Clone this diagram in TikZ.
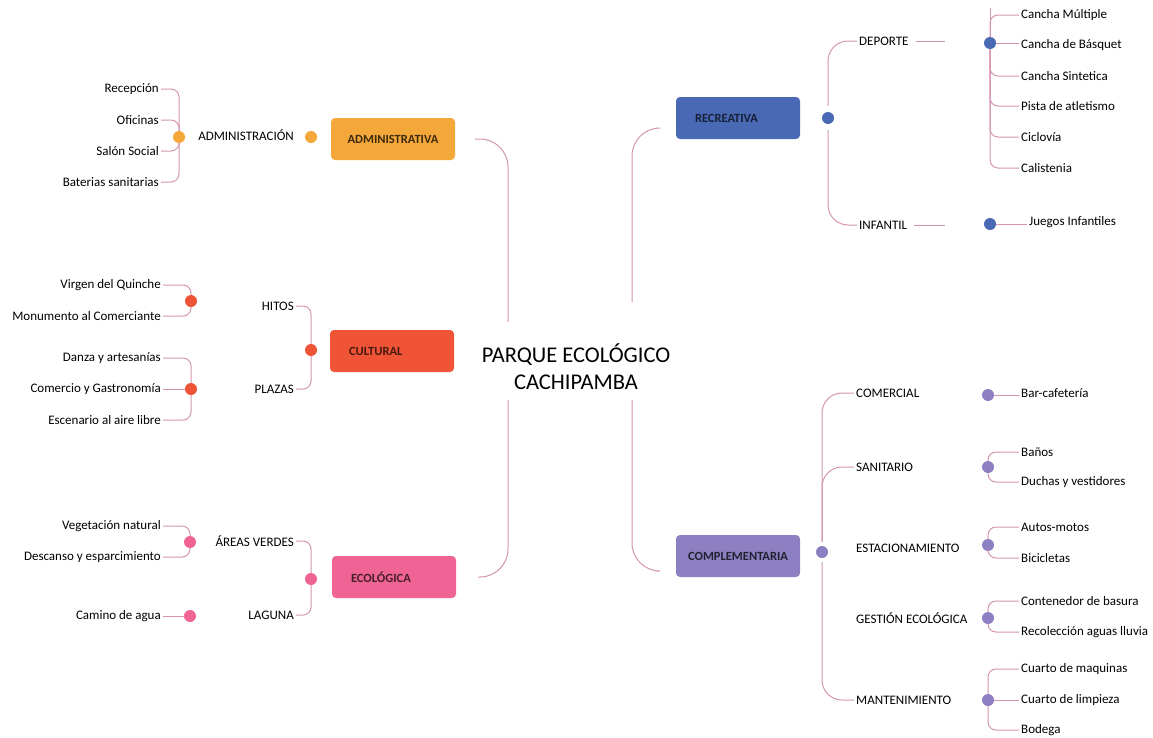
\documentclass[tikz,border=0pt]{standalone}
\usepackage{fontspec}
\setmainfont{Carlito}
\usepackage{tikz}
\usetikzlibrary{positioning,calc}
\definecolor{admC}{HTML}{F4A83A}
\definecolor{culC}{HTML}{EF5436}
\definecolor{ecoC}{HTML}{EF6494}
\definecolor{recC}{HTML}{4A69B5}
\definecolor{comC}{HTML}{8C80C2}
\definecolor{linkC}{HTML}{D494B2}
\tikzset{
  mainbox/.style={rounded corners=4pt,minimum height=42pt,text width=86pt,inner xsep=19pt,
    align=left,font=\fontsize{12.5}{14}\selectfont\bfseries},
  widebox/.style={text width=104pt,inner xsep=10pt,align=center},
  dot/.style={circle,inner sep=0pt,minimum size=12pt},
  leafL/.style={anchor=east,inner sep=2pt,font=\fontsize{13}{15}\selectfont},
  leafR/.style={anchor=west,inner sep=2pt,font=\fontsize{13}{15}\selectfont},
  link/.style={draw=linkC,line width=1pt},
  brace/.style={link,rounded corners=8pt},
  trunk/.style={link,rounded corners=28pt}
}

\begin{document}
\begin{tikzpicture}[x=1pt,y=-1pt]
\useasboundingbox[fill=white] (0,0) rectangle (1153,737);

% centre
\node[align=center,font=\fontsize{22.5}{27}\selectfont] (park) at (576,367) {PARQUE ECOLÓGICO\\CACHIPAMBA};
\coordinate (lt) at (508,322);
\coordinate (lb) at (508,400);
\coordinate (rt) at (632,302);
\coordinate (rb) at (632,400);

% main boxes
\node[mainbox,widebox,fill=admC,text=admC!25!black] (adm) at (393,139) {ADMINISTRATIVA};
\node[mainbox,fill=culC,text=culC!30!black] (cul) at (392,351) {CULTURAL};
\node[mainbox,fill=ecoC,text=ecoC!30!black] (eco) at (394,577) {ECOLÓGICA};
\node[mainbox,fill=recC,text=recC!30!black] (rec) at (738,118) {RECREATIVA};
\node[mainbox,widebox,fill=comC,text=comC!25!black] (com) at (738,556) {COMPLEMENTARIA};

\draw[trunk,shorten <=20pt] (adm.east) -| (lt);
\draw[trunk,shorten <=22pt] (eco.east) -| (lb);
\draw[trunk,shorten <=20pt] ([yshift=-10pt]rec.west) -| (rt);
\draw[trunk,shorten <=20pt] ([yshift=-15pt]com.west) -| (rb);

% ADMINISTRATIVA
\node[dot,fill=admC] (admd) at (311,137) {};
\node[leafL] (admin) at (296,135) {ADMINISTRACIÓN};
\node[dot,fill=admC] (admind) at (179,137) {};
\node[leafL] (recep) at (161,89) {Recepción};
\node[leafL] (ofic) at (161,120) {Oficinas};
\node[leafL] (salon) at (161,151) {Salón Social};
\node[leafL] (bater) at (161,182) {Baterias sanitarias};
\draw[brace] (recep.east) -| (admind);
\draw[brace] (ofic.east) -| (admind);
\draw[brace] (salon.east) -| (admind);
\draw[brace] (bater.east) -| (admind);

% CULTURAL
\node[dot,fill=culC] (culd) at (311,350) {};
\node[leafL] (hitos) at (296,306) {HITOS};
\node[leafL] (plazas) at (296,389) {PLAZAS};
\draw[brace] (hitos.east) -| (culd);
\draw[brace] (plazas.east) -| (culd);
\node[dot,fill=culC] (hitosd) at (191,301) {};
\node[leafL] (virgen) at (163,285) {Virgen del Quinche};
\node[leafL] (monum) at (163,316) {Monumento al Comerciante};
\draw[brace] (virgen.east) -| (hitosd);
\draw[brace] (monum.east) -| (hitosd);
\node[dot,fill=culC] (plazasd) at (191,389) {};
\node[leafL] (danza) at (163,358) {Danza y artesanías};
\node[leafL] (comer) at (163,389) {Comercio y Gastronomía};
\node[leafL] (escen) at (163,420) {Escenario al aire libre};
\draw[brace] (danza.east) -| (plazasd);
\draw[link] (comer.east) -- (plazasd);
\draw[brace] (escen.east) -| (plazasd);

% ECOLOGICA
\node[dot,fill=ecoC] (ecod) at (311,579) {};
\node[leafL] (areas) at (296,541) {ÁREAS VERDES};
\node[leafL] (laguna) at (296,615) {LAGUNA};
\draw[brace] (areas.east) -| (ecod);
\draw[brace] (laguna.east) -| (ecod);
\node[dot,fill=ecoC] (areasd) at (190,542) {};
\node[leafL] (veget) at (163,526) {Vegetación natural};
\node[leafL] (desc) at (163,557) {Descanso y esparcimiento};
\draw[brace] (veget.east) -| (areasd);
\draw[brace] (desc.east) -| (areasd);
\node[dot,fill=ecoC] (lagunad) at (190,616) {};
\node[leafL] (camino) at (163,616) {Camino de agua};
\draw[link] (camino.east) -- (lagunad);

% RECREATIVA
\node[dot,fill=recC] (recd) at (828,118) {};
\node[leafR] (dep) at (857,41) {DEPORTE};
\node[leafR] (inf) at (857,225) {INFANTIL};
\draw[trunk,rounded corners=20pt,shorten >=6pt] (dep.west) -| (recd);
\draw[trunk,rounded corners=20pt,shorten >=6pt] (inf.west) -| (recd);
\node[dot,fill=recC] (depd) at (990,43) {};
\node[dot,fill=recC] (infd) at (990,224) {};
\draw[link,shorten <=5pt,shorten >=45pt] (dep.east) -- (dep.east -| depd);
\draw[link,shorten <=5pt,shorten >=45pt] (inf.east) -- (inf.east -| infd);
\coordinate (deptop) at (990,8);
\draw[link] (deptop) -- (depd);
\node[leafR] (cmul) at (1019,15) {Cancha Múltiple};
\node[leafR] (cbas) at (1019,45) {Cancha de Básquet};
\node[leafR] (csin) at (1019,76) {Cancha Sintetica};
\node[leafR] (pista) at (1019,106) {Pista de atletismo};
\node[leafR] (ciclo) at (1019,137) {Ciclovía};
\node[leafR] (calis) at (1019,168) {Calistenia};
\draw[brace] (cmul.west) -| (depd);
\draw[link] (cbas.west |- depd) -- (depd);
\draw[brace] (csin.west) -| (depd);
\draw[brace] (pista.west) -| (depd);
\draw[brace] (ciclo.west) -| (depd);
\draw[brace] (calis.west) -| (depd);
\node[leafR] (juegos) at (1027,222) {Juegos Infantiles};
\draw[link] (juegos.west |- infd) -- (infd);

% COMPLEMENTARIA
\node[dot,fill=comC] (comd) at (822,552) {};
\node[leafR] (comerc) at (854,393) {COMERCIAL};
\node[leafR] (sanit) at (854,467) {SANITARIO};
\node[leafR] (estac) at (854,548) {ESTACIONAMIENTO};
\node[leafR] (gest) at (854,618) {GESTIÓN ECOLÓGICA};
\node[leafR] (mant) at (854,700) {MANTENIMIENTO};
\draw[trunk,rounded corners=20pt,shorten >=4pt] (comerc.west) -| (comd);
\draw[trunk,rounded corners=20pt,shorten >=4pt] (sanit.west) -| (comd);
\draw[trunk,rounded corners=20pt,shorten >=4pt] (mant.west) -| (comd);

\node[dot,fill=comC] (comercd) at (988,395) {};
\node[leafR] (bar) at (1019,393) {Bar-cafetería};
\draw[link] (bar.west |- comercd) -- (comercd);

\node[dot,fill=comC] (sanitd) at (988,467) {};
\node[leafR] (banos) at (1019,452) {Baños};
\node[leafR] (duchas) at (1019,482) {Duchas y vestidores};
\draw[brace] (banos.west) -| (sanitd);
\draw[brace] (duchas.west) -| (sanitd);

\node[dot,fill=comC] (estacd) at (988,545) {};
\node[leafR] (autos) at (1019,527) {Autos-motos};
\node[leafR] (bici) at (1019,558) {Bicicletas};
\draw[brace] (autos.west) -| (estacd);
\draw[brace] (bici.west) -| (estacd);

\node[dot,fill=comC] (gestd) at (988,618) {};
\node[leafR] (conten) at (1019,601) {Contenedor de basura};
\node[leafR] (recol) at (1019,632) {Recolección aguas lluvia};
\draw[brace] (conten.west) -| (gestd);
\draw[brace] (recol.west) -| (gestd);

\node[dot,fill=comC] (mantd) at (988,700) {};
\node[leafR] (maqu) at (1019,669) {Cuarto de maquinas};
\node[leafR] (limp) at (1019,700) {Cuarto de limpieza};
\node[leafR] (bodega) at (1019,730) {Bodega};
\draw[brace] (maqu.west) -| (mantd);
\draw[link] (limp.west) -- (mantd);
\draw[brace] (bodega.west) -| (mantd);
\end{tikzpicture}
\end{document}
